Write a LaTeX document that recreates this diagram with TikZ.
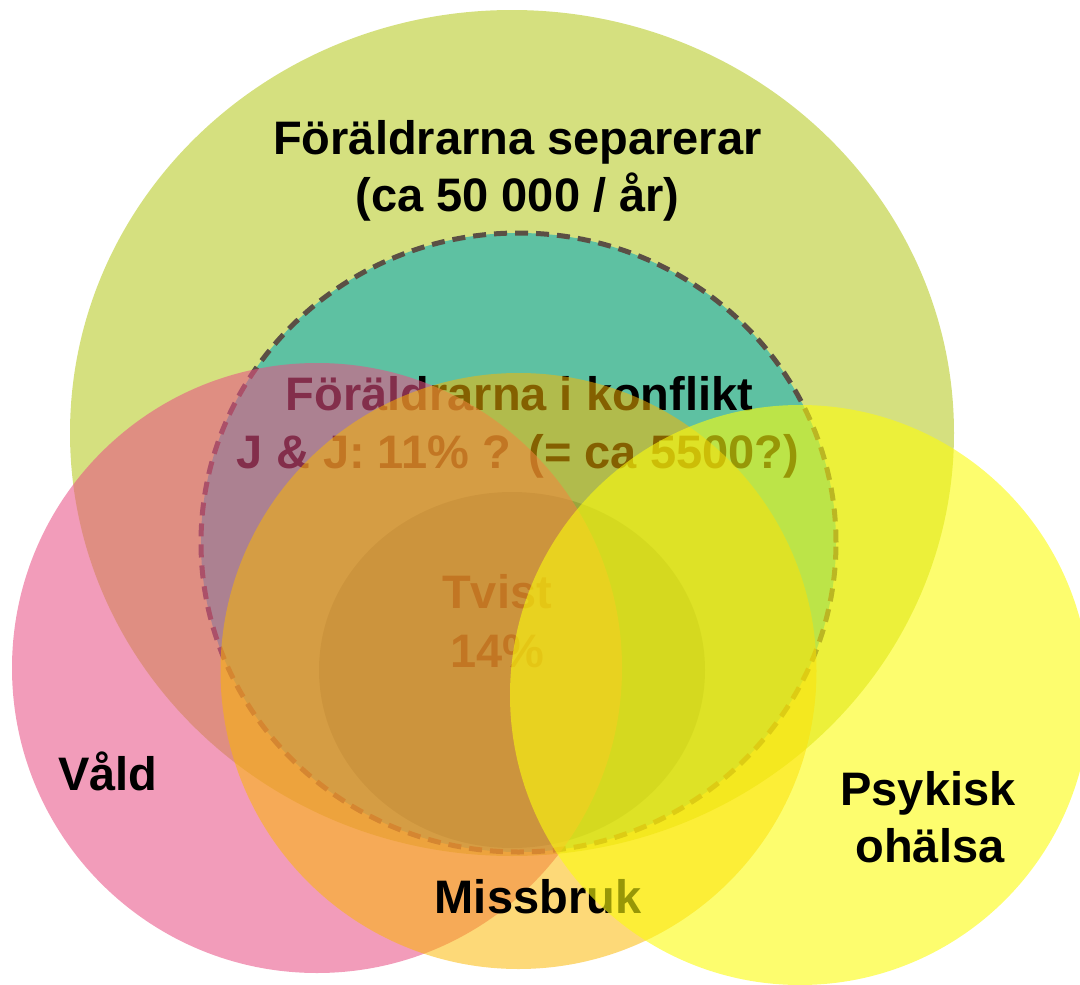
\documentclass[tikz,border=0pt]{standalone}
\usepackage{fontspec}
\setmainfont{Liberation Sans}
\definecolor{cgreen}{RGB}{213,224,127}
\definecolor{cteal}{RGB}{94,193,162}
\definecolor{cinner}{RGB}{48,148,128}
\definecolor{cdash}{RGB}{91,79,69}
\definecolor{cpink}{RGB}{232,81,133}
\definecolor{corange}{RGB}{251,183,0}
\definecolor{cyellow}{RGB}{252,252,13}
\begin{document}
\begin{tikzpicture}[x=1pt,y=-1pt,
  lbl/.style={font=\fontsize{47}{57}\selectfont\bfseries, inner sep=0pt, anchor=base, text=black},
  pinkdisc/.style={fill=cpink, fill opacity=0.57},
  orangedisc/.style={fill=corange, fill opacity=0.53},
  yellowdisc/.style={fill=cyellow, fill opacity=0.6},
  dashring/.style={draw=cdash, line width=5pt, dash pattern=on 13pt off 8pt}]
\useasboundingbox (0,0) rectangle (1080,985);
% base layers
\fill[cgreen] (512,433) ellipse [x radius=442pt, y radius=423pt];
\node[lbl] (sep1) at (517.5,154) {Föräldrarna separerar};
\node[lbl] (sep2) at (517.5,211) {(ca 50 000 / år)};
\fill[cteal] (518.5,542.5) ellipse [x radius=317.5pt, y radius=309.5pt];
\fill[cinner] (512,670) ellipse [x radius=193pt, y radius=178pt];
\draw[dashring] (518.5,542.5) ellipse [x radius=317.5pt, y radius=309.5pt];
\node[lbl] (konf1) at (519.5,410) {Föräldrarna i konflikt};
\node[lbl] (konf2) at (518,468) {J \& J: 11\% ? (= ca 5500?)};
\node[lbl] (tvist1) at (497,608) {Tvist};
\node[lbl] (tvist2) at (497.5,667) {14\%};
% overlays
\fill[pinkdisc] (317,668) circle [radius=305pt];
\node[lbl] (vald) at (108,790) {Våld};
\fill[orangedisc] (518.5,671) circle [radius=298pt];
\node[lbl] (miss) at (538,913) {Missbruk};
\fill[yellowdisc] (800,695) circle [radius=290pt];
\node[lbl] (psyk1) at (928,805) {Psykisk};
\node[lbl] (psyk2) at (930,862) {ohälsa};
\end{tikzpicture}
\end{document}
